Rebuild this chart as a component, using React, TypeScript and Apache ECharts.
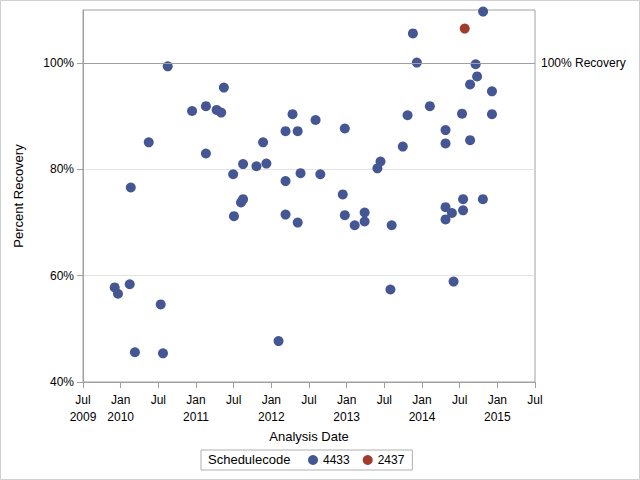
import React, { useEffect, useRef } from "react";
import * as echarts from "echarts";

const dates4433: string[] = [
  "2009-12-03", "2009-12-19", "2010-02-14", "2010-02-19", "2010-03-11", "2010-05-17",
  "2010-07-14", "2010-07-25", "2010-08-17", "2010-12-13", "2011-02-18", "2011-02-18",
  "2011-04-11", "2011-05-03", "2011-05-16", "2011-06-30", "2011-07-04", "2011-08-07",
  "2011-08-17", "2011-08-17", "2011-10-21", "2011-11-22", "2011-12-08", "2012-02-05",
  "2012-03-10", "2012-03-10", "2012-03-10", "2012-04-13", "2012-05-08", "2012-05-08",
  "2012-05-22", "2012-08-03", "2012-08-26", "2012-12-13", "2012-12-23", "2012-12-23",
  "2013-02-09", "2013-03-29", "2013-03-29", "2013-05-30", "2013-06-14", "2013-08-01",
  "2013-08-07", "2013-09-30", "2013-10-23", "2013-11-18", "2013-12-07", "2014-02-08",
  "2014-04-25", "2014-04-25", "2014-04-25", "2014-04-25", "2014-05-26", "2014-06-03",
  "2014-07-14", "2014-07-19", "2014-07-19", "2014-08-22", "2014-08-22", "2014-09-18",
  "2014-09-25", "2014-10-24", "2014-10-23", "2014-12-06", "2014-12-06",
];
const recovery4433: number[] = [
  57.8, 56.6, 58.4, 76.6, 45.6, 85.1,
  54.6, 45.4, 99.4, 91.0, 91.9, 83.0,
  91.2, 90.7, 95.4, 79.1, 71.2, 73.8,
  74.4, 81.0, 80.6, 85.1, 81.1, 47.7,
  87.2, 77.8, 71.5, 90.4, 87.2, 70.0,
  79.3, 89.3, 79.1, 75.3, 87.7, 71.4,
  69.5, 71.9, 70.2, 80.2, 81.5, 57.4,
  69.5, 84.3, 90.2, 105.6, 100.1, 91.9,
  87.4, 84.9, 72.9, 70.6, 71.8, 58.9,
  90.5, 74.4, 72.3, 85.5, 96.0, 99.8,
  97.5, 109.7, 74.4, 94.7, 90.4,
];
const dates2437: string[] = ["2014-07-27"];
const recovery2437: number[] = [106.5];

const xTickMin = 2009.5;
const xTickMax = 2015.5;
const yTicks = [40, 60, 80, 100];

function decimalYear(s: string): number {
  const [y, m, d] = s.split("-").map(Number);
  const start = Date.UTC(y, 0, 1);
  const end = Date.UTC(y + 1, 0, 1);
  return y + (Date.UTC(y, m - 1, d) - start) / (end - start);
}

const FONT = "'Liberation Sans', Arial, sans-serif";

export default function App() {
  const ref = useRef<HTMLDivElement>(null);
  useEffect(() => {
    document.body.style.margin = "0";
    if (!ref.current) return;
    const chart = echarts.init(ref.current, null, { renderer: "svg" });
    const data4433 = dates4433.map((d, i) => [decimalYear(d), recovery4433[i]]);
    const data2437 = dates2437.map((d, i) => [decimalYear(d), recovery2437[i]]);
    chart.setOption({
      animation: false,
      backgroundColor: "#fff",
      textStyle: { fontFamily: FONT },
      grid: {
        left: 83,
        right: 105,
        top: 10,
        bottom: 98,
        show: true,
        borderColor: "#a0a0a0",
        borderWidth: 1,
      },
      xAxis: {
        type: "value",
        min: xTickMin,
        max: xTickMax,
        interval: 0.5,
        name: "Analysis Date",
        nameLocation: "middle",
        nameGap: 48,
        nameTextStyle: { fontSize: 13, color: "#000", fontFamily: FONT },
        axisLine: { lineStyle: { color: "#a0a0a0" } },
        axisTick: { show: true, length: 6, lineStyle: { color: "#a0a0a0" } },
        splitLine: { show: false },
        axisLabel: {
          color: "#000",
          fontSize: 12,
          fontFamily: FONT,
          margin: 9,
          lineHeight: 17,
          formatter: (v: number) => {
            const y = Math.floor(v + 1e-6);
            const isJul = Math.abs(v - y - 0.5) < 1e-6;
            if (isJul) return v === xTickMin ? "Jul\n" + y : "Jul";
            return "Jan\n" + y;
          },
        },
      },
      yAxis: {
        type: "value",
        min: 40,
        max: 110,
        interval: 20,
        name: "Percent Recovery",
        nameLocation: "middle",
        nameGap: 58,
        nameRotate: 90,
        nameTextStyle: { fontSize: 13, color: "#000", fontFamily: FONT },
        axisLine: { show: true, lineStyle: { color: "#a0a0a0" } },
        axisTick: { show: true, length: 6, lineStyle: { color: "#a0a0a0" }, customValues: yTicks },
        splitLine: { show: true, lineStyle: { color: "#e4e4e4" } },
        axisLabel: {
          color: "#000",
          fontSize: 12,
          fontFamily: FONT,
          margin: 9,
          customValues: yTicks,
          formatter: (v: number) => v + "%",
        },
      },
      legend: {
        left: 201,
        top: 450,
        orient: "horizontal",
        data: [
          { name: "4433", icon: "circle" },
          { name: "2437", icon: "circle" },
        ],
        itemWidth: 10,
        itemHeight: 10,
        itemGap: 13,
        padding: [4, 8, 4, 107],
        borderColor: "#b0b0b0",
        borderWidth: 1,
        textStyle: { color: "#000", fontSize: 12, fontFamily: FONT },
      },
      graphic: [
        {
          type: "rect",
          shape: { x: 0.5, y: 0.5, width: 639, height: 479 },
          style: { fill: "none", stroke: "#d0d0d0", lineWidth: 1 },
          silent: true,
        },
        {
          type: "text",
          left: 208,
          top: 453,
          style: { text: "Schedulecode", fill: "#000", fontSize: 13, fontFamily: FONT },
          silent: true,
        },
      ],
      series: [
        {
          name: "4433",
          type: "scatter",
          symbol: "circle",
          symbolSize: 10,
          itemStyle: { color: "#445694", opacity: 1 },
          data: data4433,
          markLine: {
            silent: true,
            symbol: ["none", "none"],
            lineStyle: { color: "#a0a0a0", type: "solid", width: 1 },
            label: {
              show: true,
              position: "end",
              distance: 6,
              color: "#000",
              fontSize: 12,
              fontFamily: FONT,
              formatter: "100% Recovery",
            },
            data: [{ yAxis: 100 }],
          },
        },
        {
          name: "2437",
          type: "scatter",
          symbol: "circle",
          symbolSize: 10,
          itemStyle: { color: "#a23a2e", opacity: 1 },
          data: data2437,
        },
      ],
    });
    return () => chart.dispose();
  }, []);
  return <div ref={ref} style={{ width: 640, height: 480 }} />;
}
